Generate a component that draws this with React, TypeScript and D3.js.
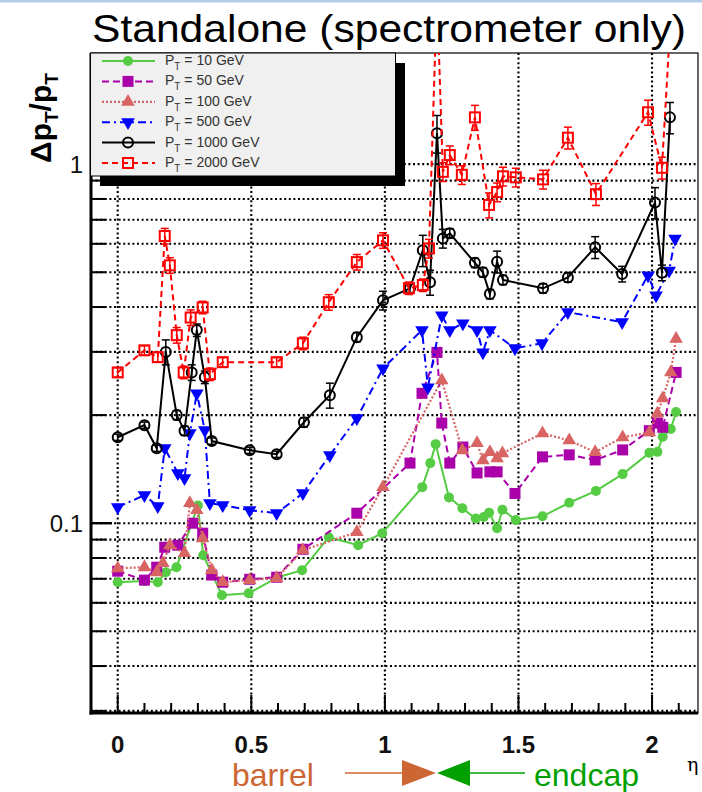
import React from "react";
import * as d3 from "d3";

// ---------- data ----------
const etaG = [0, 0.1, 0.15, 0.18, 0.22, 0.3, 0.32, 0.39, 0.49, 0.6, 0.69, 0.79, 0.9, 0.99, 1.14, 1.17, 1.19, 1.24, 1.29, 1.34, 1.37, 1.39, 1.42, 1.44, 1.49, 1.59, 1.69, 1.79, 1.89, 1.99, 2.02, 2.04, 2.07, 2.09];
const valG = [0.0685, 0.069, 0.0685, 0.073, 0.0754, 0.112, 0.0814, 0.063, 0.0638, 0.0707, 0.074, 0.0914, 0.0868, 0.0938, 0.126, 0.147, 0.166, 0.118, 0.11, 0.103, 0.104, 0.107, 0.0968, 0.109, 0.102, 0.1045, 0.114, 0.123, 0.137, 0.157, 0.158, 0.174, 0.183, 0.204];

const etaM = [0, 0.1, 0.146, 0.176, 0.225, 0.28, 0.318, 0.352, 0.393, 0.494, 0.595, 0.693, 0.895, 1.094, 1.139, 1.195, 1.213, 1.243, 1.292, 1.345, 1.393, 1.42, 1.487, 1.59, 1.69, 1.787, 1.89, 1.99, 2.02, 2.04, 2.09];
const valM = [0.0735, 0.0694, 0.0754, 0.0857, 0.0868, 0.1, 0.0938, 0.0717, 0.0685, 0.0698, 0.0707, 0.0846, 0.1066, 0.147, 0.23, 0.299, 0.19, 0.147, 0.163, 0.138, 0.139, 0.139, 0.121, 0.153, 0.155, 0.15, 0.16, 0.181, 0.19, 0.185, 0.263];

const etaP = [0, 0.1, 0.146, 0.169, 0.195, 0.25, 0.27, 0.296, 0.318, 0.352, 0.393, 0.494, 0.595, 0.693, 0.895, 0.993, 1.213, 1.29, 1.345, 1.367, 1.393, 1.42, 1.44, 1.59, 1.69, 1.787, 1.89, 1.99, 2.02, 2.04, 2.07, 2.09];
const valP = [0.0749, 0.0754, 0.073, 0.0774, 0.0868, 0.0825, 0.1137, 0.1087, 0.0908, 0.074, 0.0685, 0.0694, 0.0703, 0.0841, 0.0944, 0.126, 0.25, 0.1596, 0.1671, 0.1497, 0.1577, 0.1517, 0.1566, 0.178, 0.17, 0.1577, 0.1735, 0.179, 0.202, 0.2226, 0.263, 0.326];

const etaB = [0, 0.1, 0.15, 0.176, 0.225, 0.25, 0.27, 0.296, 0.326, 0.345, 0.393, 0.494, 0.595, 0.693, 0.794, 0.895, 0.993, 1.139, 1.161, 1.213, 1.243, 1.292, 1.345, 1.367, 1.393, 1.487, 1.588, 1.685, 1.888, 1.985, 2.015, 2.064, 2.086];
const valB = [0.1108, 0.1197, 0.1115, 0.1618, 0.1378, 0.1335, 0.178, 0.23, 0.1815, 0.1137, 0.1122, 0.1087, 0.1066, 0.1212, 0.1546, 0.1961, 0.27, 0.345, 0.239, 0.379, 0.345, 0.36, 0.345, 0.299, 0.345, 0.307, 0.317, 0.387, 0.363, 0.49, 0.431, 0.505, 0.62];

const etaK = [0, 0.1, 0.146, 0.18, 0.221, 0.25, 0.277, 0.296, 0.326, 0.352, 0.494, 0.595, 0.697, 0.794, 0.895, 0.993, 1.094, 1.142, 1.169, 1.195, 1.217, 1.243, 1.337, 1.367, 1.393, 1.42, 1.442, 1.592, 1.685, 1.787, 1.888, 2.011, 2.037, 2.067];
const valK = [0.1735, 0.1875, 0.1617, 0.3, 0.2, 0.181, 0.263, 0.345, 0.255, 0.1693, 0.1596, 0.1556, 0.191, 0.2273, 0.3297, 0.4175, 0.451, 0.576, 0.469, 1.22, 0.621, 0.642, 0.531, 0.5, 0.4346, 0.535, 0.476, 0.451, 0.4837, 0.587, 0.4945, 0.782, 0.4985, 1.35];
const errK = [0.02, 0.02, 0.02, 0.08, 0.03, 0.03, 0.05, 0.04, 0.04, 0.02, 0.02, 0.02, 0.03, 0.08, 0.03, 0.06, 0.03, 0.1, 0.08, 0.12, 0.06, 0.03, 0.03, 0.03, 0.03, 0.07, 0.03, 0.03, 0.03, 0.07, 0.05, 0.1, 0.05, 0.1];

const etaR = [0, 0.1, 0.15, 0.176, 0.195, 0.221, 0.247, 0.273, 0.318, 0.345, 0.393, 0.595, 0.693, 0.79, 0.895, 0.993, 1.09, 1.142, 1.165, 1.195, 1.217, 1.243, 1.288, 1.337, 1.39, 1.42, 1.442, 1.49, 1.592, 1.685, 1.79, 1.985, 2.037, 2.075];
const valR = [0.263, 0.303, 0.29, 0.6307, 0.5226, 0.334, 0.263, 0.374, 0.399, 0.26, 0.2808, 0.2808, 0.3169, 0.4125, 0.5336, 0.6135, 0.4515, 0.4604, 0.5825, 3.0, 0.952, 1.06, 0.934, 1.35, 0.77, 0.836, 0.925, 0.919, 0.907, 1.185, 0.825, 1.395, 0.977, 3.0];
const errR = [0.03, 0.03, 0.03, 0.05, 0.05, 0.05, 0.04, 0.05, 0.04, 0.04, 0.03, 0.03, 0.04, 0.05, 0.05, 0.05, 0.04, 0.04, 0.06, 0.1, 0.06, 0.06, 0.06, 0.08, 0.08, 0.06, 0.06, 0.06, 0.06, 0.07, 0.07, 0.08, 0.07, 0.1];

const legendLabels = ["10 GeV", "50 GeV", "100 GeV", "500 GeV", "1000 GeV", "2000 GeV"];
const xTickLabels = ["0", "0.5", "1", "1.5", "2"];
const yTickLabels = ["0.1", "1"];
const titleText = "Standalone (spectrometer only)";

// ---------- layout ----------
const W = 702, H = 792;
const L = 91, R = 698, T = 53, B = 713;
const FONT = "'Liberation Sans', Arial, Helvetica, sans-serif";

type Marker = "circleF" | "squareF" | "triUp" | "triDown" | "circleO" | "squareO";
interface Series { eta: number[]; val: number[]; err?: number[]; color: string; dash: string; marker: Marker; width: number; }

const series: Series[] = [
  { eta: etaG, val: valG, color: "#55cc44", dash: "none", marker: "circleF", width: 2 },
  { eta: etaM, val: valM, color: "#aa00aa", dash: "7,4", marker: "squareF", width: 2 },
  { eta: etaP, val: valP, color: "#d86464", dash: "2,2", marker: "triUp", width: 2.2 },
  { eta: etaB, val: valB, color: "#0000ff", dash: "8,4,2,4", marker: "triDown", width: 2 },
  { eta: etaK, val: valK, err: errK, color: "#000000", dash: "none", marker: "circleO", width: 2 },
  { eta: etaR, val: valR, err: errR, color: "#ff0000", dash: "6,4", marker: "squareO", width: 2 },
];

function MarkerShape({ m, x, y, c }: { m: Marker; x: number; y: number; c: string }) {
  switch (m) {
    case "circleF": return <circle cx={x} cy={y} r={5} fill={c} />;
    case "squareF": return <rect x={x - 5.5} y={y - 5.5} width={11} height={11} fill={c} />;
    case "triUp": return <path d={d3.symbol(d3.symbolTriangle, 80)()!} transform={`translate(${x},${y})`} fill={c} />;
    case "triDown": return <path d={d3.symbol(d3.symbolTriangle, 80)()!} transform={`translate(${x},${y}) rotate(180)`} fill={c} />;
    case "circleO": return <circle cx={x} cy={y} r={5} fill="none" stroke={c} strokeWidth={2} />;
    case "squareO": return <rect x={x - 5} y={y - 5} width={10} height={10} fill="none" stroke={c} strokeWidth={2} />;
  }
}

export default function App() {
  const x = d3.scaleLinear().domain([-0.1, 2.172]).range([L, R]);
  const y = d3.scaleLog().domain([0.0296, 2.04]).range([B, T]);

  const gridY: number[] = [];
  for (let d = 0.01; d <= 1; d *= 10) for (let k = 1; k <= 9; k++) { const v = d * k; if (v >= 0.03 && v <= 1.0001) gridY.push(v); }
  const majorY = [0.1, 1];
  const minorY = gridY.filter((v) => !majorY.some((m) => Math.abs(m - v) < 1e-9)).concat([2]);
  const gridX = [0, 0.5, 1, 1.5, 2];
  const minorX = d3.range(-1, 22).map((i) => i / 10).filter((v) => !gridX.some((g) => Math.abs(g - v) < 1e-9));

  const line = d3.line<[number, number]>().x((d) => x(d[0])).y((d) => y(d[1]));

  const legendRowY = (i: number) => 61 + i * 20.4;

  return (
    <svg width={W} height={H} style={{ position: "absolute", left: 0, top: 0, background: "#fff" }} fontFamily={FONT}>
      <defs>
        <clipPath id="plot"><rect x={L} y={T} width={R - L} height={B - T} /></clipPath>
      </defs>
      <rect x={0} y={0} width={W} height={H} fill="#fff" />
      <rect x={0} y={0} width={W} height={2.5} fill="#b4cdea" />

      {/* title */}
      <text x={92} y={42} fontSize={39} textLength={594} lengthAdjust="spacingAndGlyphs" fill="#000">{titleText}</text>

      {/* grid */}
      <g stroke="#000" strokeWidth={2.1} strokeDasharray="2,2.6">
        {gridY.map((v) => <line key={"gy" + v} x1={L} x2={R} y1={y(v)} y2={y(v)} />)}
        {gridX.map((v) => <line key={"gx" + v} x1={x(v)} x2={x(v)} y1={T} y2={B} />)}
      </g>

      {/* frame */}
      <rect x={L} y={T} width={R - L} height={B - T} fill="none" stroke="#000" strokeWidth={1.2} />
      <line x1={L} x2={L} y1={T} y2={B + 1.5} stroke="#000" strokeWidth={3} />
      <line x1={L - 1.5} x2={R} y1={B} y2={B} stroke="#000" strokeWidth={3} />

      {/* axis ticks */}
      <g stroke="#000" strokeWidth={2}>
        {gridX.map((v) => <line key={"tx" + v} x1={x(v)} x2={x(v)} y1={B} y2={B - 18} />)}
        {minorX.map((v) => <line key={"mx" + v} x1={x(v)} x2={x(v)} y1={B} y2={B - 10} />)}
        {majorY.map((v) => <line key={"ty" + v} x1={L} x2={L + 21} y1={y(v)} y2={y(v)} strokeWidth={2.4} />)}
        {minorY.map((v) => <line key={"my" + v} x1={L} x2={L + 15} y1={y(v)} y2={y(v)} />)}
      </g>
      <g fontSize={24} fontWeight="bold" textAnchor="middle" fill="#111">
        {gridX.map((v, i) => <text key={"lx" + v} x={x(v)} y={753}>{xTickLabels[i]}</text>)}
      </g>
      <g fontSize={24} textAnchor="end" fill="#111">
        {majorY.map((v, i) => <text key={"ly" + v} x={83} y={y(v) + 9}>{yTickLabels[i]}</text>)}
      </g>

      {/* y label */}
      <text transform="translate(51,118) rotate(-90)" textAnchor="middle" fontSize={30} fontWeight="bold" fill="#000">
        Δp<tspan fontSize={19} dy={7}>T</tspan><tspan dy={-7}>/p</tspan><tspan fontSize={19} dy={7}>T</tspan>
      </text>

      {/* series */}
      <g clipPath="url(#plot)">
        {series.map((s, si) => {
          const pts: [number, number][] = s.eta.map((e, i) => [e, s.val[i]]);
          return (
            <g key={"s" + si}>
              <path d={line(pts)!} fill="none" stroke={s.color} strokeWidth={s.width} strokeDasharray={s.dash} />
              {s.err && pts.map((p, i) => {
                const lo = p[1] * (1 - s.err![i]), hi = p[1] * (1 + s.err![i]);
                const px = x(p[0]);
                return (
                  <g key={"e" + i} stroke={s.color} strokeWidth={1.5}>
                    <line x1={px} x2={px} y1={y(lo)} y2={y(hi)} />
                    <line x1={px - 4} x2={px + 4} y1={y(lo)} y2={y(lo)} />
                    <line x1={px - 4} x2={px + 4} y1={y(hi)} y2={y(hi)} />
                  </g>
                );
              })}
              {pts.map((p, i) => <MarkerShape key={"m" + i} m={s.marker} x={x(p[0])} y={y(p[1])} c={s.color} />)}
            </g>
          );
        })}
      </g>

      {/* legend */}
      <rect x={100} y={63} width={305} height={123} fill="#000" />
      <rect x={90.5} y={53} width={305} height={123} fill="#f0f0f0" stroke="#000" strokeWidth={1} />
      <g clipPath="url(#plot)">
        {series.map((s, i) => {
          const ly = legendRowY(i);
          return (
            <g key={"lg" + i}>
              <line x1={102} x2={155} y1={ly} y2={ly} stroke={s.color} strokeWidth={s.width} strokeDasharray={s.dash} />
              <MarkerShape m={s.marker} x={128} y={ly} c={s.color} />
              <text x={165} y={ly + 4} fontSize={14} fill="#333">
                P<tspan fontSize={10} dy={5}>T</tspan><tspan dy={-5}> = {legendLabels[i]}</tspan>
              </text>
            </g>
          );
        })}
      </g>

      {/* barrel / endcap annotation */}
      <text x={232} y={786} fontSize={32} fill="#cc6633">barrel</text>
      <line x1={345} x2={403} y1={773} y2={773} stroke="#cc6633" strokeWidth={1.5} />
      <path d="M402,760 L436,773 L402,786 Z" fill="#cc6633" />
      <path d="M470,760 L437,773 L470,786 Z" fill="#00a000" />
      <line x1={469} x2={525} y1={773} y2={773} stroke="#00a000" strokeWidth={1.5} />
      <text x={534} y={786} fontSize={32} fill="#00a000">endcap</text>
      <text x={687} y={771} fontSize={19} fill="#000" fontFamily="'DejaVu Serif', serif">η</text>
    </svg>
  );
}
